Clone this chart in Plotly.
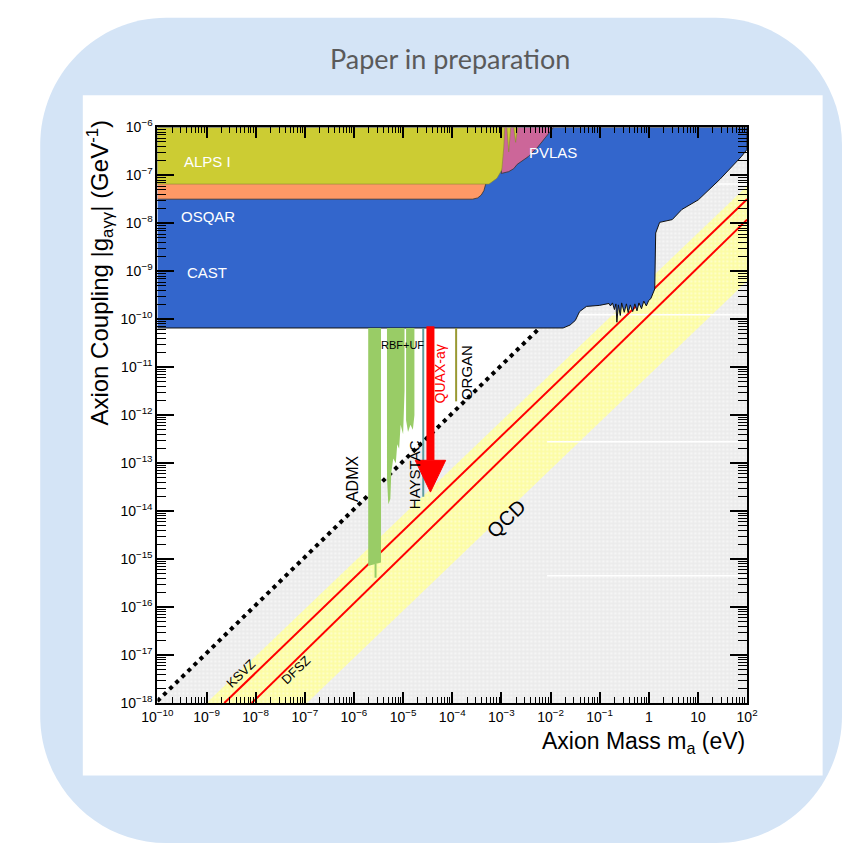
import numpy as np
import plotly.graph_objects as go

W, H = 853, 852

# Axis extents (eV, GeV^-1)
M_MIN, M_MAX = 1e-10, 1e2
G_MIN, G_MAX = 1e-18, 1e-6

# ---------------- data ----------------
# Helioscope / haloscope envelope (lower-right edge of the excluded blue area)
cast_m = [1e-10, 1.8e-2, 2.5e-2, 3.2e-2, 3.9e-2, 5.4e-2, 9.8e-2, 0.155,
          0.166, 0.182, 0.20, 0.214, 0.224, 0.24, 0.263, 0.28, 0.316, 0.35,
          0.38, 0.42, 0.47, 0.52, 0.575, 0.63, 0.71, 0.79, 0.89, 1.0, 1.1,
          1.32, 1.38, 1.66, 3.0, 4.7, 10.2, 28.0, 76.0, 100.0]
cast_g = [6.6e-11, 6.6e-11, 7.6e-11, 9.5e-11, 1.45e-10, 1.86e-10, 1.95e-10, 2.14e-10,
          1.9e-10, 2.2e-10, 1.6e-10, 2.1e-10, 8.7e-11, 2.0e-10, 1.2e-10, 2.2e-10, 1.4e-10, 2.1e-10,
          1.38e-10, 2.0e-10, 1.45e-10, 2.1e-10, 1.5e-10, 2.2e-10, 1.66e-10, 2.4e-10, 1.9e-10, 2.5e-10, 2.7e-10,
          4.3e-10, 6.3e-9, 1.05e-8, 1.2e-8, 1.95e-8, 3.1e-8, 8.3e-8, 2.45e-7, 3.5e-7]

# OSQAR band
osqar_m = [1e-10, 2.6e-4, 3.3e-4, 3.9e-4, 4.4e-4, 4.8e-4, 5.0e-4, 1e-10]
osqar_g = [3.2e-8, 3.2e-8, 3.4e-8, 3.9e-8, 4.8e-8, 6.6e-8, 1e-7, 1e-7]

# ALPS I
alps_m = [1e-10, 1e-10, 5.6e-4, 8.1e-4, 1.02e-3, 1.12e-3, 1.17e-3,
          1.29e-3, 1.41e-3, 1.55e-3, 1.78e-3, 1.95e-3, 2.14e-3]
alps_g = [1e-6, 6.6e-8, 6.6e-8, 8.7e-8, 1.3e-7, 3.9e-7, 1e-6,
          1e-6, 3.1e-7, 1e-6, 1e-6, 4.9e-7, 1e-6]

# PVLAS
pvlas_m = [1.0e-3, 1.0e-3, 1.41e-3, 1.78e-3, 2.1e-3, 2.57e-3, 3.5e-3, 5.5e-3, 1.1e-2, 1.15e-2]
pvlas_g = [1e-6, 1.1e-7, 1.2e-7, 1.38e-7, 1.7e-7, 1.95e-7, 2.45e-7, 3.9e-7, 9.1e-7, 1e-6]

# ADMX
admx_m = [1.95e-6, 1.95e-6, 2.4e-6, 3.0e-6, 3.55e-6, 3.55e-6]
admx_g = [6.6e-11, 7.2e-16, 7.6e-16, 8.0e-16, 8.5e-16, 6.6e-11]
admx_tail_m = [2.75e-6, 2.75e-6]
admx_tail_g = [8.0e-16, 4.1e-16]

# RBF + UF
rbf_m = [4.7e-6, 4.7e-6, 5.0e-6, 5.5e-6, 5.75e-6, 6.3e-6, 7.1e-6, 7.6e-6,
         8.3e-6, 8.9e-6, 1.0e-5, 1.07e-5, 1.07e-5]
rbf_g = [6.6e-11, 5e-14, 1.4e-14, 1.8e-14, 6.3e-14, 1.26e-13, 1.0e-13, 2.5e-13,
         2.0e-13, 6.3e-13, 4.0e-13, 3.2e-12, 6.6e-11]

# Further haloscope column
halo2_m = [1.15e-5, 1.15e-5, 1.26e-5, 1.41e-5, 1.58e-5, 1.7e-5, 1.7e-5]
halo2_g = [6.6e-11, 7.9e-13, 4.5e-13, 6.3e-13, 5.0e-13, 1.0e-12, 6.6e-11]

# HAYSTAC and ORGAN
haystac_m = [2.57e-5, 2.57e-5]
haystac_g = [6.6e-11, 2.0e-14]
organ_m = [1.2e-4, 1.2e-4]
organ_g = [6.6e-11, 1.95e-12]

# QUAX-a gamma projected reach
quax_m = 3.6e-5
quax_g_start = 7.2e-11
quax_g_head = 1.15e-13
quax_g_tip = 2.5e-14

# QCD axion band and model lines
qcd_m = [1e-9, 100.0, 100.0, 1.1e-7]
qcd_g = [1e-18, 6e-8, 6.3e-10, 1e-18]
ksvz_m = [2.3e-9, 100.0]
ksvz_g = [1e-18, 3.2e-8]
dfsz_m = [8.3e-9, 100.0]
dfsz_g = [1e-18, 1.2e-8]

# Dotted boundary line
dot_m = [1e-10, 6e-3]
dot_g = [1.1e-18, 6.6e-11]

# Seams between the hatched fill pieces (coupling, starting mass)
seam_g = [6.6e-8, 1.25e-10, 2.8e-13, 4.5e-16]
seam_m = [25.0, 1.1e-2, 8.5e-3, 8.5e-3]

# Tick labels
x_tick_vals = [10.0 ** e for e in range(-10, 3)]
x_tick_text = ["10<sup>\u2212%d</sup>" % -e for e in range(-10, 0)] + ["1", "10", "10<sup>2</sup>"]
y_tick_vals = [10.0 ** e for e in range(-18, -5)]
y_tick_text = ["10<sup>\u2212%d</sup>" % -e for e in range(-18, -5)]

# ---------------- figure ----------------
FONT = "Liberation Sans"
fig = go.Figure()


def region(m, g, color, outline=None, width=0, pattern=None):
    fig.add_trace(go.Scatter(
        x=m, y=g, mode="lines", fill="toself", fillcolor=color,
        fillpattern=pattern,
        line=dict(color=outline or color, width=width),
        hoverinfo="skip", showlegend=False))


def line(m, g, color, width, dash="solid"):
    fig.add_trace(go.Scatter(
        x=m, y=g, mode="lines", line=dict(color=color, width=width, dash=dash),
        hoverinfo="skip", showlegend=False))


# light-grey area below the dotted line
grey_m = [M_MIN, M_MIN, dot_m[1], dot_m[1], M_MAX, M_MAX]
grey_g = [G_MIN, dot_g[0], dot_g[1], G_MAX, G_MAX, G_MIN]
region(grey_m, grey_g, "#eeeeee",
       pattern=dict(shape=".", bgcolor="#ebebeb", fgcolor="#ffffff", size=4, solidity=0.35))

# QCD band
region(qcd_m, qcd_g, "#ffffa8",
       pattern=dict(shape=".", bgcolor="#fcfca4", fgcolor="#ffffe6", size=4, solidity=0.35))

for g0, m0 in zip(seam_g, seam_m):
    line([m0, M_MAX], [g0, g0], "white", 1.5)

line(ksvz_m, ksvz_g, "#ff0000", 2)
line(dfsz_m, dfsz_g, "#ff0000", 2)
line(dot_m, dot_g, "black", 4, dash="4px,4.5px")

# excluded regions
blue_m = cast_m + [M_MAX, M_MIN]
blue_g = cast_g + [G_MAX, G_MAX]
region(blue_m, blue_g, "#3366cc", outline="#111111", width=1)
region(pvlas_m, pvlas_g, "#cc6699", outline="#333333", width=0.8)
region(osqar_m, osqar_g, "#ff9966", outline="#333333", width=0.8)
region(alps_m, alps_g, "#cccc33", outline="#888833", width=0.6)

region(admx_m, admx_g, "#99cc66")
line(admx_tail_m, admx_tail_g, "#99cc66", 2)
region(rbf_m, rbf_g, "#99cc66")
region(halo2_m, halo2_g, "#99cc66")
line(haystac_m, haystac_g, "#5f9ea0", 2)
line(organ_m, organ_g, "#999933", 2)

# QUAX arrow
line([quax_m, quax_m], [quax_g_start, quax_g_head], "#ff0000", 8)
half = 10 ** 0.31
fig.add_trace(go.Scatter(
    x=[quax_m / half, quax_m * half, quax_m, quax_m / half],
    y=[quax_g_head, quax_g_head, quax_g_tip, quax_g_head],
    mode="lines", fill="toself", fillcolor="#ff0000", line=dict(color="#ff0000", width=1),
    hoverinfo="skip", showlegend=False))

# ---------------- labels ----------------
ann = []


def label(text, lm, lg, size, color="black", angle=0, xanchor="center"):
    ann.append(dict(x=lm, y=lg, xref="x", yref="y", text=text, showarrow=False,
                    textangle=angle, xanchor=xanchor, yanchor="middle",
                    font=dict(family=FONT, size=size, color=color)))


label("ALPS I", -9.49, -6.71, 15, "white", xanchor="left")
label("OSQAR", -9.56, -7.86, 15, "white", xanchor="left")
label("CAST", -9.43, -9.02, 15, "white", xanchor="left")
label("PVLAS", -2.48, -6.53, 15, "white", xanchor="left")
label("RBF+UF", -5.01, -10.53, 11)
label("QUAX-a\u03b3", -4.24, -11.14, 14, "#ff0000", angle=-90)
label("ORGAN", -3.72, -11.10, 15, angle=-90)
label("ADMX", -6.04, -13.31, 16, angle=-90)
label("HAYSTAC", -4.77, -13.24, 15, angle=-90)
label("QCD", -2.91, -14.16, 20, angle=-44)
label("KSVZ", -8.30, -17.39, 13, angle=-44)
label("DFSZ", -7.17, -17.31, 13, angle=-44)

# axis titles and heading (paper coordinates)
ann.append(dict(x=755 / W, y=1 - 748 / H, xref="paper", yref="paper", showarrow=False,
                text="Axion Mass m<sub>a</sub> (eV)", xanchor="right", yanchor="middle",
                font=dict(family=FONT, size=23, color="black")))
ann.append(dict(x=87 / W, y=1 - 268 / H, xref="paper", yref="paper", showarrow=False,
                text="Axion Coupling |g<sub>a\u03b3\u03b3</sub>| (GeV<sup>-1</sup>)",
                textangle=-90, xanchor="center", yanchor="middle",
                font=dict(family=FONT, size=24, color="black")))
ann.append(dict(x=448 / W, y=1 - 50 / H, xref="paper", yref="paper", showarrow=False,
                text="Paper in preparation", xanchor="center", yanchor="middle",
                font=dict(family="Lato", size=27, color="#5a5a5a")))

# ---------------- background panels ----------------


def P(px, py):
    return "%.5f,%.5f" % (min(px, W) / W, 1 - min(py, H) / H)


# rounded slide panel, kept inside the page
x0, x1, y0, y1 = 25, 853, 8, 851
rl, rr = 130, 130
k = 0.5523
bg_path = " ".join([
    "M", P(x0 + rl, y0),
    "L", P(x1 - rr, y0),
    "C", P(x1 - rr + k * rr, y0), P(x1, y0 + rr - k * rr), P(x1, y0 + rr),
    "L", P(x1, y1 - rr),
    "C", P(x1, y1 - rr + k * rr), P(x1 - rr + k * rr, y1), P(x1 - rr, y1),
    "L", P(x0 + rl, y1),
    "C", P(x0 + rl - k * rl, y1), P(x0, y1 - rl + k * rl), P(x0, y1 - rl),
    "L", P(x0, y0 + rl),
    "C", P(x0, y0 + rl - k * rl), P(x0 + rl - k * rl, y0), P(x0 + rl, y0),
    "Z"])

shapes = [
    dict(type="path", path=bg_path, xref="paper", yref="paper",
         fillcolor="#d4e4f6", line=dict(width=0), layer="below"),
    dict(type="rect", x0=69 / W, x1=833 / W, y0=1 - 782 / H, y1=1 - 87 / H,
         xref="paper", yref="paper", fillcolor="white", line=dict(width=0), layer="below"),
]

minor_x = [kk * 10.0 ** e for e in range(-10, 2) for kk in range(2, 10)]
minor_y = [kk * 10.0 ** e for e in range(-18, -6) for kk in range(2, 10)]

axis_common = dict(type="log", ticks="inside", tickcolor="black", tickwidth=1.5,
                   showline=True, linecolor="black", linewidth=2, mirror="allticks",
                   showgrid=False, zeroline=False, tickmode="array",
                   tickfont=dict(family=FONT, size=14, color="black"))

fig.update_layout(
    width=W, height=H,
    margin=dict(l=0, r=0, t=0, b=0),
    paper_bgcolor="white", plot_bgcolor="rgba(0,0,0,0)",
    showlegend=False, hovermode=False,
    shapes=shapes, annotations=ann,
    xaxis=dict(range=[-10, 2], domain=[146 / W, 755 / W],
               tickvals=x_tick_vals, ticktext=x_tick_text, ticklen=11,
               minor=dict(tickmode="array", tickvals=minor_x, ticks="inside", ticklen=6,
                          tickcolor="black", tickwidth=1, showgrid=False),
               **axis_common),
    yaxis=dict(range=[-18, -6], domain=[1 - 708 / H, 1 - 120 / H],
               tickvals=y_tick_vals, ticktext=y_tick_text, ticklen=17,
               minor=dict(tickmode="array", tickvals=minor_y, ticks="inside", ticklen=9,
                          tickcolor="black", tickwidth=1, showgrid=False),
               **axis_common),
)

fig.write_html("out.html")
